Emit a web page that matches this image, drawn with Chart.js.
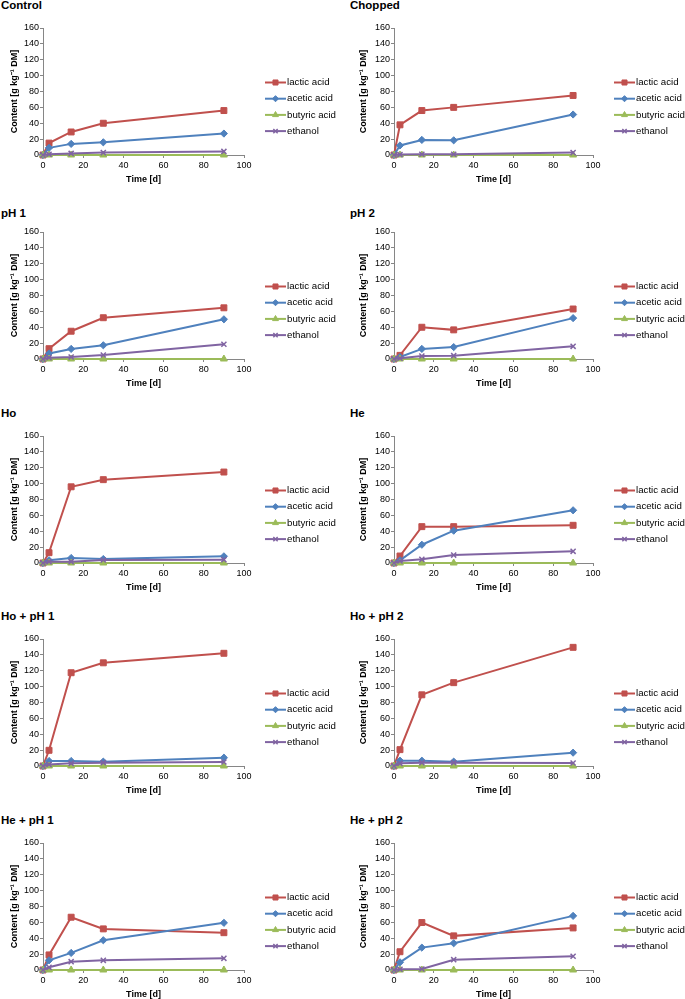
<!DOCTYPE html>
<html>
<head>
<meta charset="utf-8">
<script src="https://cdn.jsdelivr.net/npm/chart.js@4.4.0/dist/chart.umd.min.js"></script>
<style>
  html, body { margin: 0; padding: 0; background: #fff; width: 685px; height: 999px; overflow: hidden; position: relative; }
  canvas { position: absolute; }
  .ttl { position: absolute; font: bold 11.5px "Liberation Sans", Arial, sans-serif; color: #000; line-height: 12px; white-space: nowrap; }
</style>
</head>
<body>
<script>
// panels, left to right, top to bottom
const panelTitles = ['Control', 'Chopped', 'pH 1', 'pH 2', 'Ho', 'He', 'Ho + pH 1', 'Ho + pH 2', 'He + pH 1', 'He + pH 2'];
const days = [0, 3, 14, 30, 90];
const seriesNames = ['lactic acid', 'acetic acid', 'butyric acid', 'ethanol'];

// one row per panel, values at days 0, 3, 14, 30, 90 (g kg-1 DM)
const lactic = [
  [0, 15, 29, 40, 56],
  [0, 38, 56, 60, 75],
  [0, 13, 35, 52, 64.5],
  [0, 4.6, 40, 36.7, 63],
  [0, 13, 96, 105, 114.6],
  [0, 8.8, 45.8, 45.8, 47.5],
  [0, 19.8, 117.5, 130, 142],
  [0, 20.6, 89.7, 105, 149.5],
  [0, 19, 66.5, 51.8, 47],
  [0, 23, 59.8, 43, 53]
];
const acetic = [
  [0, 9, 14, 16, 27],
  [0, 12, 19, 18.5, 51],
  [0, 7, 12.7, 17.3, 50],
  [0, 2.5, 12.7, 15, 51.5],
  [0, 3.4, 6.3, 5, 8.4],
  [0, 3.4, 23, 40.7, 66.4],
  [0, 6.3, 6.3, 5.5, 10.5],
  [0, 6.7, 6.7, 5.5, 16.8],
  [0, 12.2, 21.5, 37.5, 59.4],
  [0, 9.7, 28.2, 33.7, 68.2]
];
const butyric = [
  [0, 0, 0, 0, 0],
  [0, 0, 0, 0, 0],
  [0, 0, 0, 0, 0],
  [0, 0, 0, 0, 0],
  [0, 0, 0, 0, 0],
  [0, 0, 0, 0, 0],
  [0, 0, 0, 0, 0],
  [0, 0, 0, 0, 0],
  [0, 0, 0, 0, 0],
  [0, 0, 0, 0, 0]
];
const ethanol = [
  [0, 1, 2, 3, 4.5],
  [0, 0.5, 1, 1, 3],
  [0, 1.7, 2.5, 5, 18.6],
  [0, 1, 3.8, 4.2, 16],
  [0, 1.7, 1.7, 3.8, 4.2],
  [0, 2.5, 4.6, 10, 14.7],
  [0, 2, 3.4, 4.2, 5],
  [0, 3.4, 4.2, 4.2, 3.8],
  [0, 3.4, 10.5, 12.2, 14.7],
  [0, 1, 1.3, 13, 17.3]
];

const xMin = 0, xMax = 100, xStep = 20;
const yMin = 0, yMax = 160, yStep = 20;

const colors = ['#C0504D', '#4F81BD', '#9BBB59', '#8064A2'];
const markers = ['rect', 'rectRot', 'triangle', 'crossRot'];
const markerSize = [4.2, 3.6, 4, 3.6];

const font = '"Liberation Sans", Arial, sans-serif';
const canvasTops = [0, 204, 408, 611, 815];
const titleTops = [-1, 207, 407, 610, 814];

// excel style legend: line with marker, right of the plot
const sideLegend = {
  id: 'sideLegend',
  afterDraw(chart) {
    const { ctx, chartArea } = chart;
    ctx.save();
    chart.data.datasets.forEach((ds, i) => {
      const y = chartArea.top + 54.5 + i * 16.2;
      const x0 = chartArea.right + 21;
      ctx.strokeStyle = ds.borderColor;
      ctx.fillStyle = ds.borderColor;
      ctx.lineWidth = 2;
      ctx.beginPath();
      ctx.moveTo(x0, y);
      ctx.lineTo(x0 + 21, y);
      ctx.stroke();
      ctx.lineWidth = ds.pointBorderWidth;
      Chart.helpers.drawPoint(ctx, {
        pointStyle: ds.pointStyle, radius: ds.pointRadius * 0.85, rotation: 0, borderWidth: ds.pointBorderWidth
      }, x0 + 10.5, y);
      ctx.fillStyle = '#000';
      ctx.font = '9.7px ' + font;
      ctx.textBaseline = 'middle';
      ctx.textAlign = 'left';
      ctx.fillText(ds.label, x0 + 22, y);
    });
    ctx.restore();
  }
};

panelTitles.forEach((title, p) => {
  const row = Math.floor(p / 2);
  const col = p % 2;

  const t = document.createElement('div');
  t.className = 'ttl';
  t.textContent = title;
  t.style.left = (col ? 350 : 1) + 'px';
  t.style.top = titleTops[row] + 'px';
  document.body.appendChild(t);

  const cv = document.createElement('canvas');
  cv.width = 343;
  cv.height = 200;
  cv.style.left = (col * 343) + 'px';
  cv.style.top = canvasTops[row] + 'px';
  document.body.appendChild(cv);

  const values = [lactic[p], acetic[p], butyric[p], ethanol[p]];
  const datasets = seriesNames.map((name, i) => ({
    label: name,
    data: days.map((d, k) => ({ x: d, y: values[i][k] })),
    borderColor: colors[i],
    backgroundColor: colors[i],
    borderWidth: 2,
    pointStyle: markers[i],
    pointRadius: markerSize[i],
    pointBorderWidth: i === 3 ? 1.5 : 1,
    pointBackgroundColor: colors[i],
    pointBorderColor: colors[i],
    tension: 0,
    clip: false,
    order: 3 - i
  }));

  new Chart(cv, {
    type: 'line',
    data: { datasets },
    options: {
      responsive: false,
      animation: false,
      events: [],
      layout: { padding: { top: 28, right: col ? 93 : 99, left: 0, bottom: 0 } },
      plugins: {
        legend: { display: false },
        tooltip: { enabled: false }
      },
      scales: {
        x: {
          type: 'linear',
          min: xMin,
          max: xMax,
          ticks: { stepSize: xStep, color: '#000', font: { family: font, size: 9 }, padding: 2, maxRotation: 0 },
          grid: { drawOnChartArea: false, drawTicks: true, tickLength: 3, color: '#868686' },
          border: { color: '#868686' },
          title: { display: true, text: 'Time [d]', color: '#000', font: { family: font, size: 9, weight: 'bold' }, padding: { top: 0, bottom: 15 } },
          afterFit: s => { s.height = 45; }
        },
        y: {
          min: yMin,
          max: yMax,
          ticks: { stepSize: yStep, color: '#000', font: { family: font, size: 9 }, padding: 1 },
          grid: { drawOnChartArea: false, drawTicks: true, tickLength: 3, color: '#868686' },
          border: { color: '#868686' },
          title: { display: true, text: 'Content [g kg\u207B\u00B9 DM]', color: '#000', font: { family: font, size: 9, weight: 'bold' }, padding: { top: col ? 15 : 9.5, bottom: 0 } },
          afterFit: s => { s.width = col ? 51 : 43; }
        }
      }
    },
    plugins: [sideLegend]
  });
});
</script>
</body>
</html>
